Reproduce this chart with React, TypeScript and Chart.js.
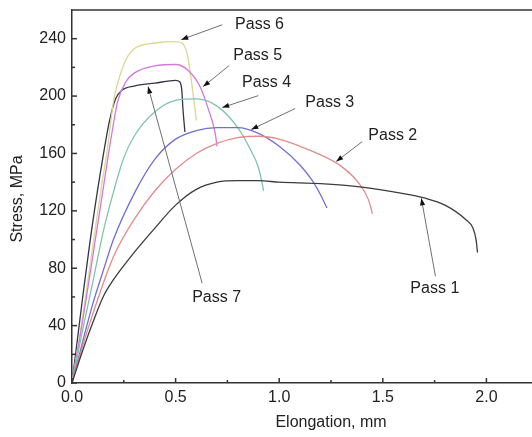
import React, { useEffect, useRef } from "react";
import { Chart, registerables } from "chart.js";

Chart.register(...registerables);

// ---- Axis ticks ----
const xMajorTicks = [0, 0.5, 1.0, 1.5, 2.0];
const xMinorTicks = [0.25, 0.75, 1.25, 1.75];
const yMajorTicks = [0, 40, 80, 120, 160, 200, 240];
const yMinorTicks = [20, 60, 100, 140, 180, 220];
const xMin = 0;
const xMax = 2.22;
const yMin = 0;
const yMax = 260;
const xTitle = "Elongation, mm";
const yTitle = "Stress, MPa";

// ---- Series (elongation mm, stress MPa) ----
const pass1Elong = [0, 0.05, 0.1, 0.15, 0.2, 0.3, 0.4, 0.5, 0.6, 0.7, 0.8, 0.9, 1.0, 1.2, 1.4, 1.6, 1.7, 1.8, 1.9, 1.935, 1.95, 1.957];
const pass1Stress = [0, 22, 42, 60, 72, 91, 108, 124, 135, 140, 141, 141, 140, 139, 136.5, 132, 129, 124, 114, 108, 100, 91];

const pass2Elong = [0, 0.05, 0.1, 0.2, 0.3, 0.4, 0.5, 0.6, 0.7, 0.8, 0.9, 1.0, 1.1, 1.2, 1.3, 1.38, 1.43, 1.45];
const pass2Stress = [0, 25, 48, 88, 114, 134, 149, 160, 167, 171, 172, 170, 165, 159, 151, 140, 128, 118];

const pass3Elong = [0, 0.05, 0.1, 0.15, 0.2, 0.3, 0.4, 0.5, 0.6, 0.7, 0.8, 0.9, 1.0, 1.1, 1.16, 1.2, 1.23];
const pass3Stress = [0, 28, 55, 78, 100, 132, 156, 170, 176, 178, 178, 174, 165, 152, 141, 131, 122];

const pass4Elong = [0, 0.05, 0.1, 0.15, 0.2, 0.25, 0.3, 0.4, 0.5, 0.6, 0.7, 0.8, 0.86, 0.9, 0.925];
const pass4Stress = [0, 36, 70, 105, 133, 157, 172, 189, 197, 198, 193, 178, 163, 150, 134];

const pass5Elong = [0, 0.05, 0.1, 0.15, 0.19, 0.22, 0.26, 0.3, 0.4, 0.5, 0.56, 0.62, 0.66, 0.69, 0.7];
const pass5Stress = [0, 42, 88, 135, 172, 196, 210, 216, 221, 222, 218, 206, 190, 175, 165];

const pass6Elong = [0, 0.05, 0.1, 0.14, 0.17, 0.2, 0.25, 0.3, 0.4, 0.5, 0.53, 0.555, 0.575, 0.59, 0.6];
const pass6Stress = [0, 45, 95, 135, 162, 196, 222, 233, 237, 238, 237, 230, 212, 195, 183];

const pass7Elong = [0, 0.05, 0.1, 0.15, 0.18, 0.21, 0.24, 0.3, 0.4, 0.5, 0.52, 0.53, 0.535, 0.54, 0.545];
const pass7Stress = [0, 58, 112, 158, 182, 198, 204, 207, 209, 211, 210, 204, 192, 183, 175];

const passNames = ["Pass 1", "Pass 2", "Pass 3", "Pass 4", "Pass 5", "Pass 6", "Pass 7"];
const passColors = ["#3c3c3c", "#e58a8a", "#6f6fd6", "#80c4ae", "#d478dc", "#d9d894", "#34344a"];
const passElong = [pass1Elong, pass2Elong, pass3Elong, pass4Elong, pass5Elong, pass6Elong, pass7Elong];
const passStress = [pass1Stress, pass2Stress, pass3Stress, pass4Stress, pass5Stress, pass6Stress, pass7Stress];

// ---- Callouts (data units) ----
const labelElong = [1.633, 1.43, 1.126, 0.821, 0.778, 0.787, 0.58];
const labelStress = [66.1, 172.5, 195.5, 209.4, 228.2, 249.7, 59.8];
const arrowFromElong = [1.754, 1.401, 1.077, 0.899, 0.758, 0.725, 0.628];
const arrowFromStress = [74.4, 168.3, 191.3, 200.3, 221.2, 249.7, 69.6];
const arrowToElong = [1.686, 1.275, 0.865, 0.725, 0.633, 0.527, 0.367];
const arrowToStress = [128.7, 154.4, 176.7, 192.0, 206.6, 239.3, 206.6];

const FONT = '16px "Liberation Sans", Arial, sans-serif';
const INK = "#222222";

const framePlugin = {
  id: "frameAndTicks",
  afterDraw(chart: any) {
    const { ctx, chartArea, scales } = chart;
    const xs = scales.x;
    const ys = scales.y;
    ctx.save();
    ctx.strokeStyle = "#333333";
    ctx.lineWidth = 1.5;
    // top frame line
    ctx.beginPath();
    ctx.moveTo(chartArea.left, chartArea.top);
    ctx.lineTo(chartArea.right, chartArea.top);
    ctx.stroke();
    // inward ticks
    const drawX = (v: number, len: number) => {
      const px = xs.getPixelForValue(v);
      ctx.beginPath();
      ctx.moveTo(px, chartArea.bottom);
      ctx.lineTo(px, chartArea.bottom - len);
      ctx.stroke();
    };
    const drawY = (v: number, len: number) => {
      const py = ys.getPixelForValue(v);
      ctx.beginPath();
      ctx.moveTo(chartArea.left, py);
      ctx.lineTo(chartArea.left + len, py);
      ctx.stroke();
    };
    xMajorTicks.forEach((v) => drawX(v, 5));
    xMinorTicks.forEach((v) => drawX(v, 3));
    yMajorTicks.forEach((v) => drawY(v, 5));
    yMinorTicks.forEach((v) => drawY(v, 3));
    // axis titles
    ctx.fillStyle = INK;
    ctx.font = FONT;
    ctx.textAlign = "center";
    ctx.textBaseline = "middle";
    ctx.fillText(xTitle, 331, 423);
    ctx.translate(18, 199);
    ctx.rotate(-Math.PI / 2);
    ctx.fillText(yTitle, 0, 0);
    ctx.restore();
  },
};

const calloutPlugin = {
  id: "passCallouts",
  afterDatasetsDraw(chart: any) {
    const { ctx, scales } = chart;
    const xs = scales.x;
    const ys = scales.y;
    ctx.save();
    passNames.forEach((name, i) => {
      const x1 = xs.getPixelForValue(arrowFromElong[i]);
      const y1 = ys.getPixelForValue(arrowFromStress[i]);
      const x2 = xs.getPixelForValue(arrowToElong[i]);
      const y2 = ys.getPixelForValue(arrowToStress[i]);
      ctx.strokeStyle = "#707070";
      ctx.lineWidth = 1;
      ctx.beginPath();
      ctx.moveTo(x1, y1);
      ctx.lineTo(x2, y2);
      ctx.stroke();
      const a = Math.atan2(y2 - y1, x2 - x1);
      const len = 7;
      const w = 2.6;
      const c = Math.cos(a);
      const s = Math.sin(a);
      ctx.fillStyle = "#111111";
      ctx.beginPath();
      ctx.moveTo(x2, y2);
      ctx.lineTo(x2 - len * c + w * s, y2 - len * s - w * c);
      ctx.lineTo(x2 - len * c - w * s, y2 - len * s + w * c);
      ctx.closePath();
      ctx.fill();
      ctx.fillStyle = INK;
      ctx.font = FONT;
      ctx.textAlign = "left";
      ctx.textBaseline = "middle";
      ctx.fillText(name, xs.getPixelForValue(labelElong[i]), ys.getPixelForValue(labelStress[i]));
    });
    ctx.restore();
  },
};

export default function App() {
  const ref = useRef<HTMLCanvasElement | null>(null);

  useEffect(() => {
    if (!ref.current) return;
    const datasets = passNames.map((name, i) => ({
      label: name,
      data: passElong[i].map((xv, j) => ({ x: xv, y: passStress[i][j] })),
      borderColor: passColors[i],
      borderWidth: 1.3,
      pointRadius: 0,
      fill: false,
      cubicInterpolationMode: "monotone" as const,
    }));
    const chart = new Chart(ref.current, {
      type: "line",
      data: { datasets },
      options: {
        animation: false,
        responsive: false,
        layout: { padding: { top: 10, right: 0, left: 0, bottom: 0 } },
        plugins: { legend: { display: false }, tooltip: { enabled: false } },
        scales: {
          x: {
            type: "linear",
            min: xMin,
            max: xMax,
            grid: { display: false, drawTicks: false },
            border: { display: true, color: "#333333", width: 1.5 },
            ticks: {
              color: INK,
              font: { family: '"Liberation Sans", Arial, sans-serif', size: 16 },
              padding: 5,
              maxRotation: 0,
              callback: (v: any) => Number(v).toFixed(1),
            },
            afterBuildTicks: (scale: any) => {
              scale.ticks = xMajorTicks.map((v) => ({ value: v }));
            },
            afterFit: (scale: any) => {
              scale.height = 54;
              scale.paddingLeft = 0;
              scale.paddingRight = 0;
            },
          },
          y: {
            type: "linear",
            min: yMin,
            max: yMax,
            grid: { display: false, drawTicks: false },
            border: { display: true, color: "#333333", width: 1.5 },
            ticks: {
              color: INK,
              font: { family: '"Liberation Sans", Arial, sans-serif', size: 16 },
              padding: 6,
            },
            afterBuildTicks: (scale: any) => {
              scale.ticks = yMajorTicks.map((v) => ({ value: v }));
            },
            afterFit: (scale: any) => {
              scale.width = 72;
              scale.paddingTop = 0;
              scale.paddingBottom = 0;
            },
          },
        },
      },
      plugins: [framePlugin, calloutPlugin],
    });
    return () => chart.destroy();
  }, []);

  return (
    <div style={{ position: "fixed", left: 0, top: 0, width: 532, height: 437, background: "#ffffff" }}>
      <canvas ref={ref} width={532} height={437} style={{ display: "block" }} />
    </div>
  );
}
